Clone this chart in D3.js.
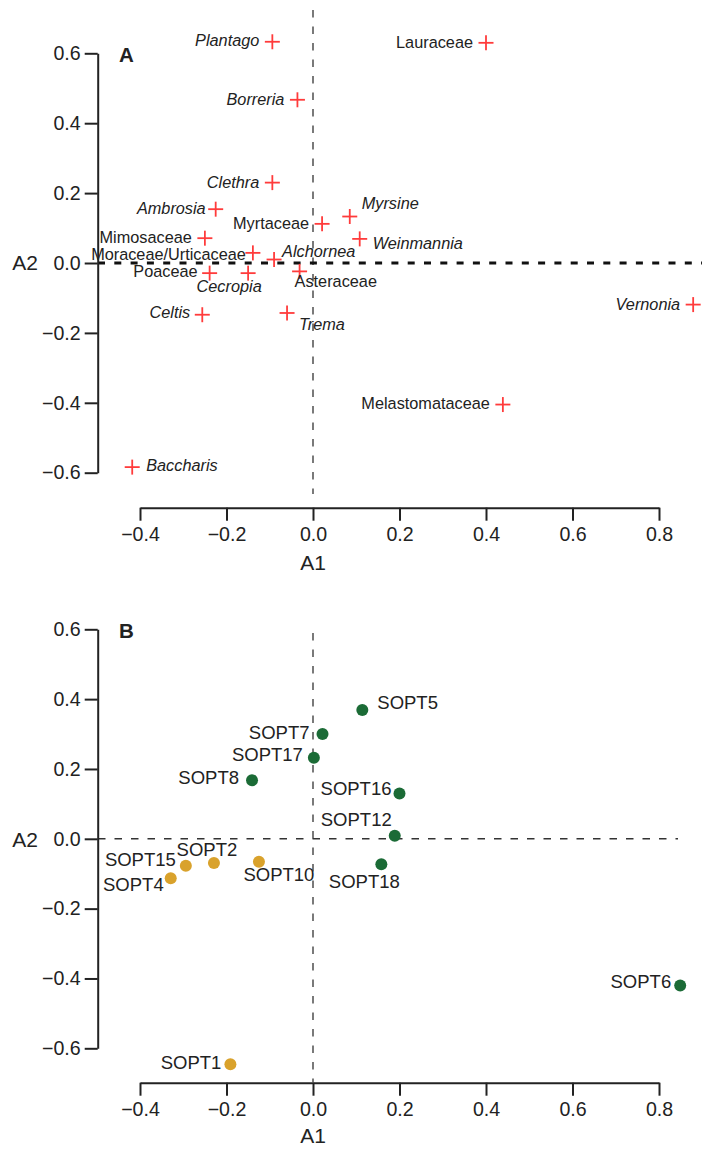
<!DOCTYPE html>
<html>
<head>
<meta charset="utf-8">
<script src="https://cdn.jsdelivr.net/npm/d3@7"></script>
<style>
  html, body { margin: 0; padding: 0; background: #fff; }
  svg { display: block; }
  text { font-family: "Liberation Sans", Arial, Helvetica, sans-serif; fill: #222; }
</style>
</head>
<body>
<svg id="chart" width="702" height="1149"></svg>
<script>
// Panel A: pollen taxa scores on ordination axes A1 / A2
const taxa = ["Plantago", "Borreria", "Clethra", "Ambrosia", "Mimosaceae",
  "Moraceae/Urticaceae", "Alchornea", "Myrtaceae", "Myrsine", "Weinmannia",
  "Poaceae", "Cecropia", "Asteraceae", "Lauraceae", "Celtis", "Trema",
  "Baccharis", "Vernonia", "Melastomataceae"];
const taxaA1 = [-0.094, -0.036, -0.094, -0.225, -0.250, -0.139, -0.090, 0.021, 0.085, 0.108,
  -0.239, -0.150, -0.031, 0.400, -0.256, -0.060, -0.418, 0.879, 0.439];
const taxaA2 = [0.633, 0.467, 0.230, 0.154, 0.071, 0.029, 0.010, 0.112, 0.133, 0.069,
  -0.029, -0.029, -0.024, 0.630, -0.148, -0.143, -0.584, -0.119, -0.405];
// genus names are set in italics, family names upright
const taxaGenus = [true, true, true, true, false, false, true, false, true, true,
  false, true, false, false, true, true, true, true, false];

// Panel B: sample scores, split into two groups
const samples = ["SOPT7", "SOPT17", "SOPT8", "SOPT5", "SOPT16", "SOPT12", "SOPT18", "SOPT6",
  "SOPT15", "SOPT2", "SOPT10", "SOPT4", "SOPT1"];
const sampleA1 = [0.022, 0.002, -0.141, 0.114, 0.200, 0.189, 0.158, 0.849,
  -0.294, -0.229, -0.125, -0.329, -0.191];
const sampleA2 = [0.300, 0.232, 0.168, 0.369, 0.130, 0.009, -0.073, -0.420,
  -0.077, -0.069, -0.066, -0.113, -0.646];
const sampleGroup = ["g1", "g1", "g1", "g1", "g1", "g1", "g1", "g1",
  "g2", "g2", "g2", "g2", "g2"];

const tickValues = [-0.6, -0.4, -0.2, 0.0, 0.2, 0.4, 0.6];
const xTickValues = [-0.4, -0.2, 0.0, 0.2, 0.4, 0.6, 0.8];

// label placement next to each marker: [anchor, dx, dy]
const taxaLabelPos = {
  "Plantago": ["end", -13, -1], "Borreria": ["end", -13, 0], "Clethra": ["end", -13, 0],
  "Ambrosia": ["end", -10, -1], "Mimosaceae": ["end", -13, -1],
  "Moraceae/Urticaceae": ["end", -7, 1], "Alchornea": ["start", 8, -8],
  "Myrtaceae": ["end", -13, -1], "Myrsine": ["start", 12, -13],
  "Weinmannia": ["start", 13, 4], "Poaceae": ["end", -12, -2],
  "Cecropia": ["middle", -19, 13], "Asteraceae": ["start", -5, 10],
  "Lauraceae": ["end", -13, -1], "Celtis": ["end", -12, -2], "Trema": ["start", 12, 11],
  "Baccharis": ["start", 14, -2], "Vernonia": ["end", -13, 0],
  "Melastomataceae": ["end", -13, -1]
};
const sampleLabelPos = {
  "SOPT7": ["end", -13, -2], "SOPT17": ["end", -11, -3], "SOPT8": ["end", -13, -3],
  "SOPT5": ["start", 15, -7], "SOPT16": ["end", -8, -5], "SOPT12": ["end", -3, -16],
  "SOPT18": ["middle", -17, 17], "SOPT6": ["end", -9, -4],
  "SOPT15": ["end", -10, -6], "SOPT2": ["middle", -7, -13], "SOPT10": ["middle", 20, 13],
  "SOPT4": ["end", -7, 6], "SOPT1": ["end", -9, -2]
};
const groupColor = { g1: "#1b6b36", g2: "#d9a22c" };

const svg = d3.select("#chart");
const fmt = d3.format(".1f");

const x = d3.scaleLinear().domain([-0.4, 0.8]).range([140, 659]);
const yA = d3.scaleLinear().domain([-0.6, 0.6]).range([472.7, 53.3]);
const yB = d3.scaleLinear().domain([-0.6, 0.6]).range([1048.3, 629.3]);

function drawAxes(g, y, axisX, axisY, titleA2Y, titleA1Y, panelLetter, letterY) {
  const yAxis = g.append("g")
    .attr("transform", `translate(${axisX},0)`)
    .call(d3.axisLeft(y).tickValues(tickValues).tickFormat(fmt)
      .tickSize(13).tickSizeOuter(0).tickPadding(4));
  const xAxis = g.append("g")
    .attr("transform", `translate(0,${axisY})`)
    .call(d3.axisBottom(x).tickValues(xTickValues).tickFormat(fmt)
      .tickSize(13).tickSizeOuter(0).tickPadding(6));
  [yAxis, xAxis].forEach(a => {
    a.selectAll("path.domain").attr("stroke", "#222").attr("stroke-width", 2);
    a.selectAll(".tick line").attr("stroke", "#222").attr("stroke-width", 2);
    a.selectAll(".tick text").attr("font-size", 19.6).attr("fill", "#222")
      .style("font-family", '"Liberation Sans", Arial, sans-serif');
  });
  xAxis.selectAll(".tick text").attr("dy", "0.71em");
  g.append("text").attr("x", 25).attr("y", titleA2Y).attr("dy", "0.35em")
    .attr("text-anchor", "middle").attr("font-size", 21).text("A2");
  g.append("text").attr("x", x(0)).attr("y", titleA1Y).attr("dy", "0.35em")
    .attr("text-anchor", "middle").attr("font-size", 21).text("A1");
  g.append("text").attr("x", 119).attr("y", letterY).attr("dy", "0.35em")
    .attr("font-size", 20.5).attr("font-weight", "bold").text(panelLetter);
}

// ---------- Panel A ----------
const gA = svg.append("g");
gA.append("line")
  .attr("x1", x(0)).attr("x2", x(0)).attr("y1", 10).attr("y2", 494)
  .attr("stroke", "#333").attr("stroke-width", 1.3).attr("stroke-dasharray", "7.5,9");
gA.append("line")
  .attr("x1", 98).attr("x2", 702).attr("y1", yA(0)).attr("y2", yA(0))
  .attr("stroke", "#111").attr("stroke-width", 2.8).attr("stroke-dasharray", "7,9.3");
drawAxes(gA, yA, 97.7, 507.7, yA(0), 563, "A", 55);

const taxaData = taxa.map((name, i) => ({ name, a1: taxaA1[i], a2: taxaA2[i], genus: taxaGenus[i] }));
const crossHalf = 7.5;
const cross = gA.append("g").selectAll("g").data(taxaData).join("g")
  .attr("transform", d => `translate(${x(d.a1)},${yA(d.a2)})`);
cross.append("line").attr("x1", -crossHalf).attr("x2", crossHalf)
  .attr("stroke", "#ff3b3b").attr("stroke-width", 1.8);
cross.append("line").attr("y1", -crossHalf).attr("y2", crossHalf)
  .attr("stroke", "#ff3b3b").attr("stroke-width", 1.8);

gA.append("g").selectAll("text").data(taxaData).join("text")
  .attr("x", d => x(d.a1) + taxaLabelPos[d.name][1])
  .attr("y", d => yA(d.a2) + taxaLabelPos[d.name][2])
  .attr("dy", "0.35em")
  .attr("text-anchor", d => taxaLabelPos[d.name][0])
  .attr("font-size", 16.3)
  .attr("font-style", d => d.genus ? "italic" : "normal")
  .text(d => d.name);

// ---------- Panel B ----------
const gB = svg.append("g");
gB.append("line")
  .attr("x1", x(0)).attr("x2", x(0)).attr("y1", 633).attr("y2", 1082)
  .attr("stroke", "#333").attr("stroke-width", 1.3).attr("stroke-dasharray", "7.5,9");
gB.append("line")
  .attr("x1", 98).attr("x2", 678).attr("y1", yB(0)).attr("y2", yB(0))
  .attr("stroke", "#333").attr("stroke-width", 1.5).attr("stroke-dasharray", "7.5,9");
drawAxes(gB, yB, 97.7, 1082.7, yB(0) + 1, 1136, "B", 631);

const sampleData = samples.map((name, i) => ({ name, a1: sampleA1[i], a2: sampleA2[i], group: sampleGroup[i] }));
gB.append("g").selectAll("circle").data(sampleData).join("circle")
  .attr("cx", d => x(d.a1)).attr("cy", d => yB(d.a2)).attr("r", 6)
  .attr("fill", d => groupColor[d.group]);

gB.append("g").selectAll("text").data(sampleData).join("text")
  .attr("x", d => x(d.a1) + sampleLabelPos[d.name][1])
  .attr("y", d => yB(d.a2) + sampleLabelPos[d.name][2])
  .attr("dy", "0.35em")
  .attr("text-anchor", d => sampleLabelPos[d.name][0])
  .attr("font-size", 18.5)
  .text(d => d.name);
</script>
</body>
</html>
